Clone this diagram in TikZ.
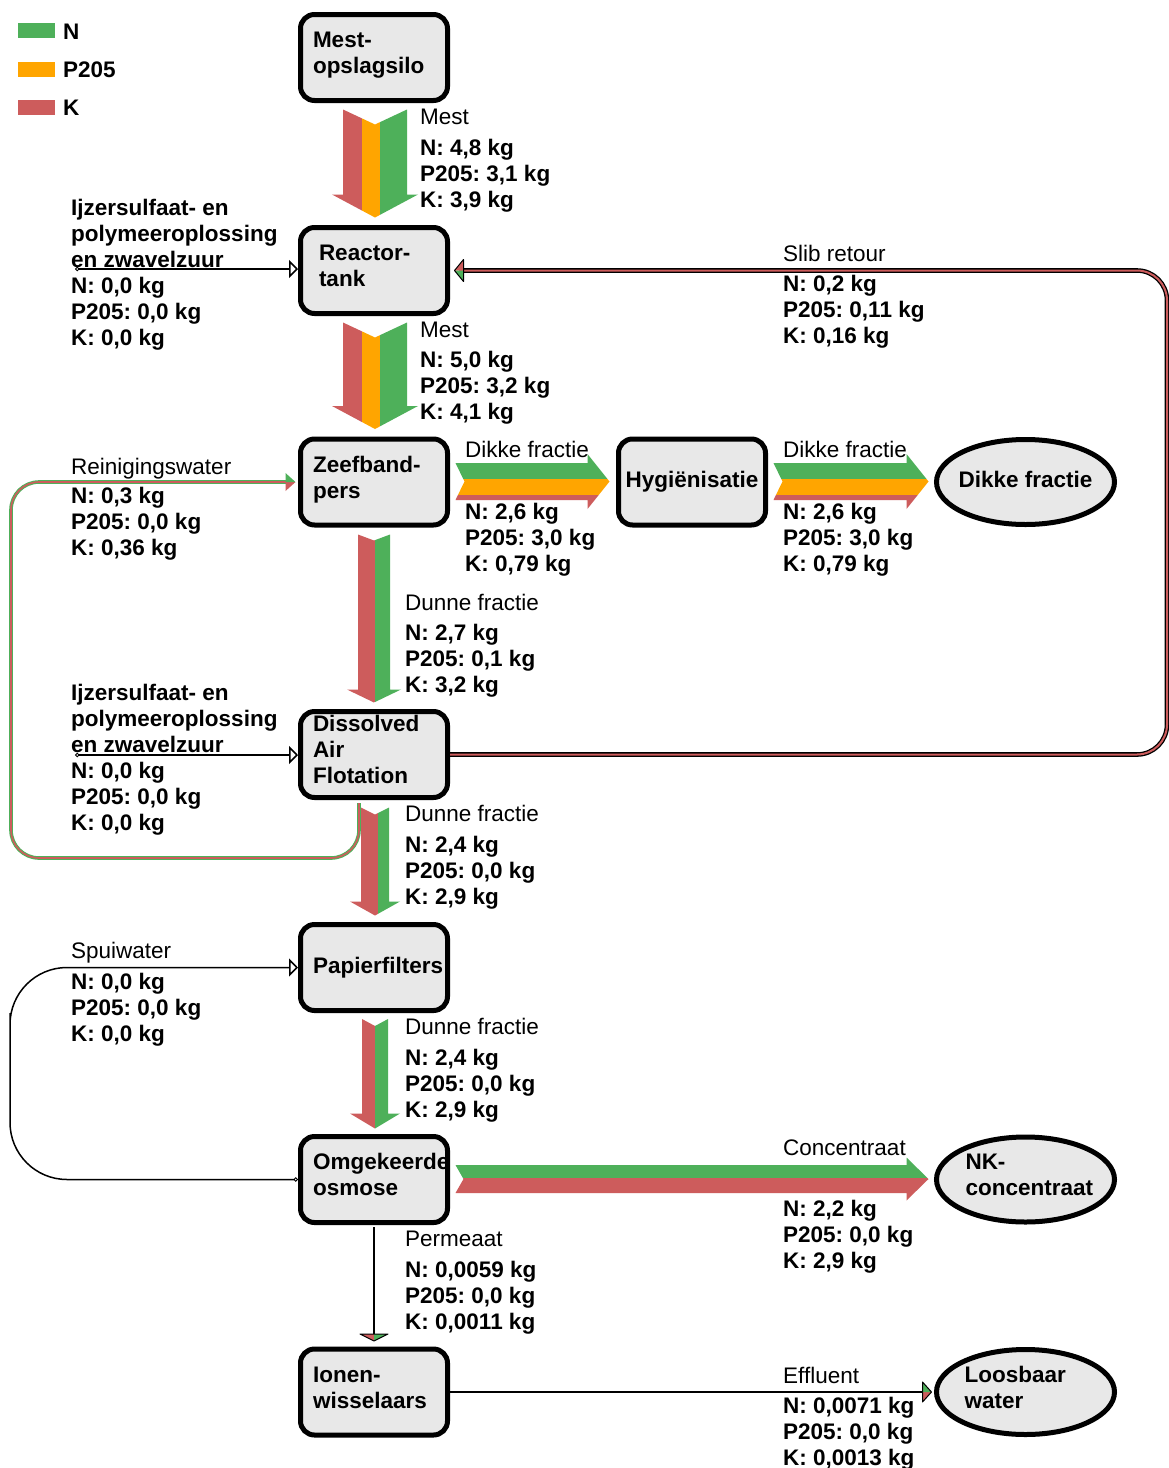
\documentclass[tikz,border=0pt]{standalone}
\usepackage{fontspec}
\setmainfont{Liberation Sans}
\usetikzlibrary{arrows.meta,calc,shapes.geometric}
\definecolor{cN}{RGB}{78,176,90}
\definecolor{cP}{RGB}{255,165,0}
\definecolor{cK}{RGB}{205,92,92}
\definecolor{boxfill}{RGB}{232,232,232}
\hyphenpenalty=10000
\exhyphenpenalty=10000
\frenchspacing
% fat multi-band flow arrow: #1 start, #2 end, #3 half shaft, #4 half head, #5 head length, #6 notch depth, #7 bands
\newcommand\flowarrow[7]{%
  \path let \p1=($(#2)-(#1)$) in \pgfextra{\pgfmathsetmacro\tmpL{veclen(\x1,\y1)}\pgfmathsetmacro\tmpA{atan2(\y1,\x1)}\xdef\fL{\tmpL}\xdef\fA{\tmpA}};
  \begin{scope}[shift={(#1)},rotate=\fA,x=1pt,y=1pt]
    \clip (0,-#3) -- (#6,0) -- (0,#3) -- (\fL-#5,#3) -- (\fL-#5,#4) -- (\fL,0) -- (\fL-#5,-#4) -- (\fL-#5,-#3) -- cycle;
    #7
  \end{scope}}
\newcommand\flowband[3]{\fill[#1] (-2,#2) rectangle (\fL+2,#3);}
% small two-coloured tip: #1 tip point, #2 direction angle, #3 length, #4 half width, #5 outline
\newcommand\duotip[5]{%
  \begin{scope}[shift={(#1)},rotate=#2,x=1pt,y=1pt]
    \fill[cK] (0,0) -- (-#3,-#4) -- (-#3,0) -- cycle;
    \fill[cN] (0,0) -- (-#3,#4) -- (-#3,0) -- cycle;
    \draw[#5, line width=1pt, line join=round] (0,0) -- (-#3,-#4) -- (-#3,#4) -- cycle;
  \end{scope}}
\newcommand\lblock[1]{\parbox[t]{300pt}{\raggedright #1}}
\newcommand\boxtext[2]{\parbox[t]{#1}{\raggedright #2}}
\tikzset{
  proc/.style={draw, line width=5pt, rounded corners=14pt, fill=boxfill, minimum width=147pt, minimum height=86pt, inner sep=0pt, font=\bfseries\fontsize{22.5}{26}\selectfont, text height=16pt, text depth=36pt},
  term/.style={ellipse, draw, line width=5pt, fill=boxfill, minimum width=178pt, minimum height=85pt, inner sep=0pt, font=\bfseries\fontsize{22.5}{26}\selectfont, text height=16pt, text depth=36pt},
  lab/.style={anchor=base west, inner sep=0pt, font=\fontsize{22.5}{26}\selectfont},
  val/.style={anchor=base west, inner sep=0pt, font=\bfseries\fontsize{22.5}{26}\selectfont},
  legbox/.style={minimum width=37pt, minimum height=15pt, inner sep=0pt},
  feed/.style={line width=1.5pt, {Circle[open,length=4.5pt,width=4.5pt,line width=1pt]}-{Triangle[open,length=9pt,width=18pt,line width=1.5pt]}},
  wire/.style={line width=1.5pt},
  slibline/.style={line width=1.3pt, double=cK, double distance=2pt},
  reinline/.style={draw=cN, line width=1pt, double=cK, double distance=1.6pt},
}
\begin{document}
\begin{tikzpicture}[x=1pt,y=-1pt]
\useasboundingbox (0,0) rectangle (1169,1468);
\fill[white] (0,0) rectangle (1169,1468);

% legend
\node[legbox, fill=cN] (legN) at (36.5,30.5) {};
\node[legbox, fill=cP] (legP) at (36.5,69.5) {};
\node[legbox, fill=cK] (legK) at (36.5,107.5) {};
\node[val] (legNt) at (63,39) {N};
\node[val] (legPt) at (63,77) {P205};
\node[val] (legKt) at (63,115) {K};

% process boxes
\node[proc] (silo) at (374,57.5) {\boxtext{122pt}{Mest-\\opslagsilo}};
\node[proc] (reactor) at (374,270.5) {\boxtext{110pt}{Reactor-\\tank}};
\node[proc] (zeef) at (374,482) {\boxtext{122pt}{Zeefband-\\pers}};
\node[proc, text depth=5pt] (hyg) at (692,482) {Hygiënisatie};
\node[term, text depth=5pt] (dikke) at (1025.5,482) {\makebox[0pt]{Dikke fractie}};
\node[proc, text depth=62pt] (daf) at (374,754.5) {\boxtext{122pt}{Dissolved\\Air\\Flotation}};
\node[proc, text depth=5pt] (pap) at (374,967.5) {\boxtext{122pt}{Papierfilters}};
\node[proc] (oo) at (374,1179.5) {\boxtext{122pt}{Omgekeerde\\osmose}};
\node[term] (nk) at (1025.5,1179.5) {\boxtext{120pt}{NK-\\concentraat}};
\node[proc] (ionen) at (374,1392) {\boxtext{122pt}{Ionen-\\wisselaars}};
\node[term] (loos) at (1025.5,1392) {\boxtext{122pt}{Loosbaar\\water}};

% fat flow arrows
\coordinate (f1s) at ($(silo.south)+(1,6.5)$);
\coordinate (f1e) at ($(reactor.north)+(1,-7.5)$);
\flowarrow{f1s}{f1e}{32}{43}{23}{15}{\flowband{cK}{-60}{-13}\flowband{cP}{-13}{5}\flowband{cN}{5}{60}}
\coordinate (f2s) at ($(reactor.south)+(1,6.5)$);
\coordinate (f2e) at ($(zeef.north)+(1,-7.5)$);
\flowarrow{f2s}{f2e}{32}{43}{23}{15}{\flowband{cK}{-60}{-13}\flowband{cP}{-13}{5}\flowband{cN}{5}{60}}
\coordinate (f3s) at ($(zeef.south)+(0,7)$);
\coordinate (f3e) at ($(daf.north)+(0,-6.5)$);
\flowarrow{f3s}{f3e}{16}{27}{13}{6}{\flowband{cK}{-60}{1}\flowband{cN}{1}{60}}
\coordinate (f4s) at ($(daf.south)+(1,7.5)$);
\coordinate (f4e) at ($(pap.north)+(1,-6.5)$);
\flowarrow{f4s}{f4e}{14}{25}{14}{7}{\flowband{cK}{-60}{3}\flowband{cN}{3}{60}}
\coordinate (f5s) at ($(pap.south)+(1,6)$);
\coordinate (f5e) at ($(oo.north)+(1,-5.5)$);
\flowarrow{f5s}{f5e}{13}{25}{15}{7}{\flowband{cK}{-60}{0}\flowband{cN}{0}{60}}
\coordinate (h1s) at ($(zeef.east)+(5.5,-0.5)$);
\coordinate (h1e) at ($(hyg.west)+(-6.5,-0.5)$);
\flowarrow{h1s}{h1e}{18.5}{27.5}{22}{9}{\flowband{cN}{2.5}{60}\flowband{cP}{-13.5}{2.5}\flowband{cK}{-60}{-13.5}}
\coordinate (h2s) at ($(hyg.east)+(5.5,-0.5)$);
\coordinate (h2e) at ($(dikke.west)+(-5.5,-0.5)$);
\flowarrow{h2s}{h2e}{18.5}{27.5}{22}{9}{\flowband{cN}{2.5}{60}\flowband{cP}{-13.5}{2.5}\flowband{cK}{-60}{-13.5}}
\coordinate (h3s) at ($(oo.east)+(5.5,-0.5)$);
\coordinate (h3e) at ($(nk.west)+(-5.5,-0.5)$);
\flowarrow{h3s}{h3e}{14}{21.5}{22}{8}{\flowband{cN}{1.5}{60}\flowband{cK}{-60}{1.5}}

% feed lines
\coordinate (in1) at (75,269);
\draw[feed] (in1) -- (in1 -| reactor.west);
\coordinate (in2) at (75,755);
\draw[feed] (in2) -- (in2 -| daf.west);
\coordinate (spc) at (10,1070);
\draw[feed, rounded corners=57pt] (oo.west) -| (spc) |- (pap.west);

% slib retour
\coordinate (slibc) at (1167,500);
\draw[slibline, rounded corners=30pt] (daf.east) -| (slibc) |- ($(reactor.east)+(9,0)$);
\duotip{$(reactor.east)+(4.5,0)$}{180}{9}{11}{black}

% reinigingswater
\coordinate (rw0) at ($(daf.south)+(-15,3)$);
\coordinate (rwc) at (11,858);
\draw[reinline, rounded corners=28pt] (rw0) |- (rwc) |- ($(zeef.west)+(-9,0)$);
\duotip{$(zeef.west)+(-2.5,0)$}{0}{10}{9}{draw=none}

% permeaat and effluent
\draw[wire] ($(oo.south)+(0,2)$) -- ($(ionen.north)+(0,-9)$);
\duotip{$(ionen.north)+(0,-5.5)$}{-90}{7}{14}{black}
\draw[wire] (ionen.east) -- ($(loos.west)+(-6,0)$);
\duotip{$(loos.west)+(-2.5,0)$}{0}{9}{10}{black}

% labels
\node[lab] (t1) at (420,124) {Mest};
\node[val] (v1) at (420,155) {\lblock{N: 4,8 kg\\P205: 3,1 kg\\K: 3,9 kg}};
\node[lab] (t2) at (420,337) {Mest};
\node[val] (v2) at (420,367) {\lblock{N: 5,0 kg\\P205: 3,2 kg\\K: 4,1 kg}};
\node[val] (v3) at (71,215) {\lblock{Ijzersulfaat- en\\polymeeroplossing\\en zwavelzuur\\N: 0,0 kg\\P205: 0,0 kg\\K: 0,0 kg}};
\node[lab] (t4) at (783,261) {Slib retour};
\node[val] (v4) at (783,291) {\lblock{N: 0,2 kg\\P205: 0,11 kg\\K: 0,16 kg}};
\node[lab] (t5) at (465,457) {Dikke fractie};
\node[val] (v5) at (465,519) {\lblock{N: 2,6 kg\\P205: 3,0 kg\\K: 0,79 kg}};
\node[lab] (t6) at (783,457) {Dikke fractie};
\node[val] (v6) at (783,519) {\lblock{N: 2,6 kg\\P205: 3,0 kg\\K: 0,79 kg}};
\node[lab] (t7) at (71,474) {Reinigingswater};
\node[val] (v7) at (71,503) {\lblock{N: 0,3 kg\\P205: 0,0 kg\\K: 0,36 kg}};
\node[lab] (t8) at (405,610) {Dunne fractie};
\node[val] (v8) at (405,640) {\lblock{N: 2,7 kg\\P205: 0,1 kg\\K: 3,2 kg}};
\node[val] (v9) at (71,700) {\lblock{Ijzersulfaat- en\\polymeeroplossing\\en zwavelzuur\\N: 0,0 kg\\P205: 0,0 kg\\K: 0,0 kg}};
\node[lab] (t10) at (405,821) {Dunne fractie};
\node[val] (v10) at (405,852) {\lblock{N: 2,4 kg\\P205: 0,0 kg\\K: 2,9 kg}};
\node[lab] (t11) at (71,958) {Spuiwater};
\node[val] (v11) at (71,989) {\lblock{N: 0,0 kg\\P205: 0,0 kg\\K: 0,0 kg}};
\node[lab] (t12) at (405,1034) {Dunne fractie};
\node[val] (v12) at (405,1065) {\lblock{N: 2,4 kg\\P205: 0,0 kg\\K: 2,9 kg}};
\node[lab] (t13) at (783,1155) {Concentraat};
\node[val] (v13) at (783,1216) {\lblock{N: 2,2 kg\\P205: 0,0 kg\\K: 2,9 kg}};
\node[lab] (t14) at (405,1246) {Permeaat};
\node[val] (v14) at (405,1277) {\lblock{N: 0,0059 kg\\P205: 0,0 kg\\K: 0,0011 kg}};
\node[lab] (t15) at (783,1383) {Effluent};
\node[val] (v15) at (783,1413) {\lblock{N: 0,0071 kg\\P205: 0,0 kg\\K: 0,0013 kg}};
\end{tikzpicture}
\end{document}
